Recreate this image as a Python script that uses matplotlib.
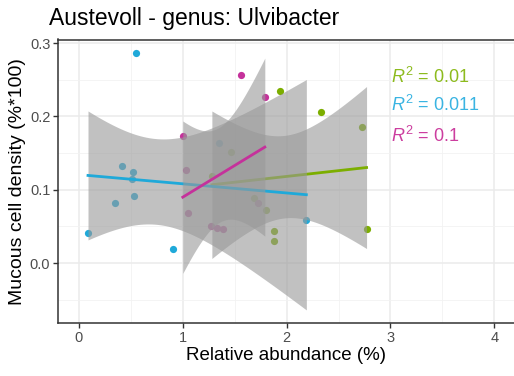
import math
import numpy as np
import matplotlib
matplotlib.use("Agg")
import matplotlib.pyplot as plt

plt.rcParams["font.family"] = ["Liberation Sans", "DejaVu Sans"]
plt.rcParams["mathtext.fontset"] = "custom"
plt.rcParams["mathtext.rm"] = "Liberation Sans"
plt.rcParams["mathtext.it"] = "Liberation Sans:italic"

# relative abundance (%) vs mucous cell density, three sample groups
green_x = [1.28, 1.46, 1.69, 1.80, 1.88, 1.88, 1.94, 2.33, 2.73, 2.77]
green_y = [0.119, 0.152, 0.089, 0.073, 0.0435, 0.0295, 0.234, 0.206, 0.185, 0.047]

blue_x = [0.087, 0.55, 0.41, 0.52, 0.51, 0.35, 0.53, 0.906, 2.19, 1.35]
blue_y = [0.041, 0.287, 0.133, 0.124, 0.114, 0.082, 0.091, 0.019, 0.0585, 0.164]

pink_x = [1.00, 1.03, 1.05, 1.27, 1.33, 1.39, 1.56, 1.72, 1.79]
pink_y = [0.173, 0.127, 0.069, 0.051, 0.0485, 0.046, 0.257, 0.082, 0.227]

r2_labels = ["0.01", "0.011", "0.1"]
r2_y = [0.254, 0.215, 0.173]

colors = ["#7CAE00", "#1FA9D9", "#C5319B"]
label_colors = ["#8DBB1E", "#3AB4E2", "#CC3E9F"]


def t_quantile(df, p=0.975):
    # Student t quantile from a numerically integrated density
    xs = np.linspace(0, 10, 100001)
    c = math.gamma((df + 1) / 2) / (math.sqrt(df * math.pi) * math.gamma(df / 2))
    pdf = c * (1 + xs ** 2 / df) ** (-(df + 1) / 2)
    cdf = 0.5 + np.concatenate([[0], np.cumsum((pdf[1:] + pdf[:-1]) / 2 * np.diff(xs))])
    return np.interp(p, cdf, xs)


def lm_band(x, y, n=80):
    x = np.asarray(x)
    y = np.asarray(y)
    slope, icpt = np.polyfit(x, y, 1)
    xs = np.linspace(x.min(), x.max(), n)
    fit = icpt + slope * xs
    resid = y - (icpt + slope * x)
    dof = len(x) - 2
    s = np.sqrt(np.sum(resid ** 2) / dof)
    se = s * np.sqrt(1 / len(x) + (xs - x.mean()) ** 2 / np.sum((x - x.mean()) ** 2))
    t = t_quantile(dof)
    return xs, fit, fit - t * se, fit + t * se


groups = [(green_x, green_y), (blue_x, blue_y), (pink_x, pink_y)]

fig = plt.figure(figsize=(5.14, 3.76), dpi=100)
ax = fig.add_axes([58 / 514, 1 - 323 / 376, 1 - 58 / 514, (323 - 39.5) / 376])

# points first, smoothers drawn over them group by group
for (gx, gy), col in zip(groups, colors):
    ax.scatter(gx, gy, s=27, color=col, linewidths=0, zorder=2)

z = 3
for (gx, gy), col in zip(groups, colors):
    xs, fit, lo, hi = lm_band(gx, gy)
    ax.fill_between(xs, lo, hi, color="#999999", alpha=0.6, linewidth=0, zorder=z)
    ax.plot(xs, fit, color=col, linewidth=2, zorder=z + 1)
    z += 2

for txt, yy, col in zip(r2_labels, r2_y, label_colors):
    ax.text(3.01, yy, r"$R^2$ = " + txt, color=col, fontsize=13, va="center", ha="left", zorder=10)

ax.set_xlim(-0.202, 4.19)
ax.set_ylim(-0.0816, 0.3048)
ax.set_xticks([0, 1, 2, 3, 4])
ax.set_yticks([0.0, 0.1, 0.2, 0.3])
ax.set_yticklabels(["0.0", "0.1", "0.2", "0.3"])
ax.set_xticks(np.arange(0.5, 4.2, 1.0), minor=True)
ax.set_yticks([-0.05, 0.05, 0.15, 0.25], minor=True)
ax.tick_params(which="minor", length=0)
ax.tick_params(which="major", length=3.5, width=1, color="#333333",
               labelcolor="#4D4D4D", labelsize=10.5, pad=2)
ax.grid(which="major", color="#EBEBEB", linewidth=1.1, zorder=0)
ax.grid(which="minor", color="#F2F2F2", linewidth=0.6, zorder=0)
ax.set_axisbelow(True)
for side in ["left", "bottom", "top"]:
    ax.spines[side].set_color("#333333")
    ax.spines[side].set_linewidth(1.1)
ax.spines["right"].set_visible(False)

ax.set_xlabel("Relative abundance (%)", fontsize=13.5, labelpad=2)
ax.set_ylabel("Mucous cell density (%*100)", fontsize=14, labelpad=3)
fig.text(49 / 514, 1 - 18 / 376, "Austevoll - genus: Ulvibacter", fontsize=16.5,
         ha="left", va="center")

fig.savefig("out.png", dpi=100)
